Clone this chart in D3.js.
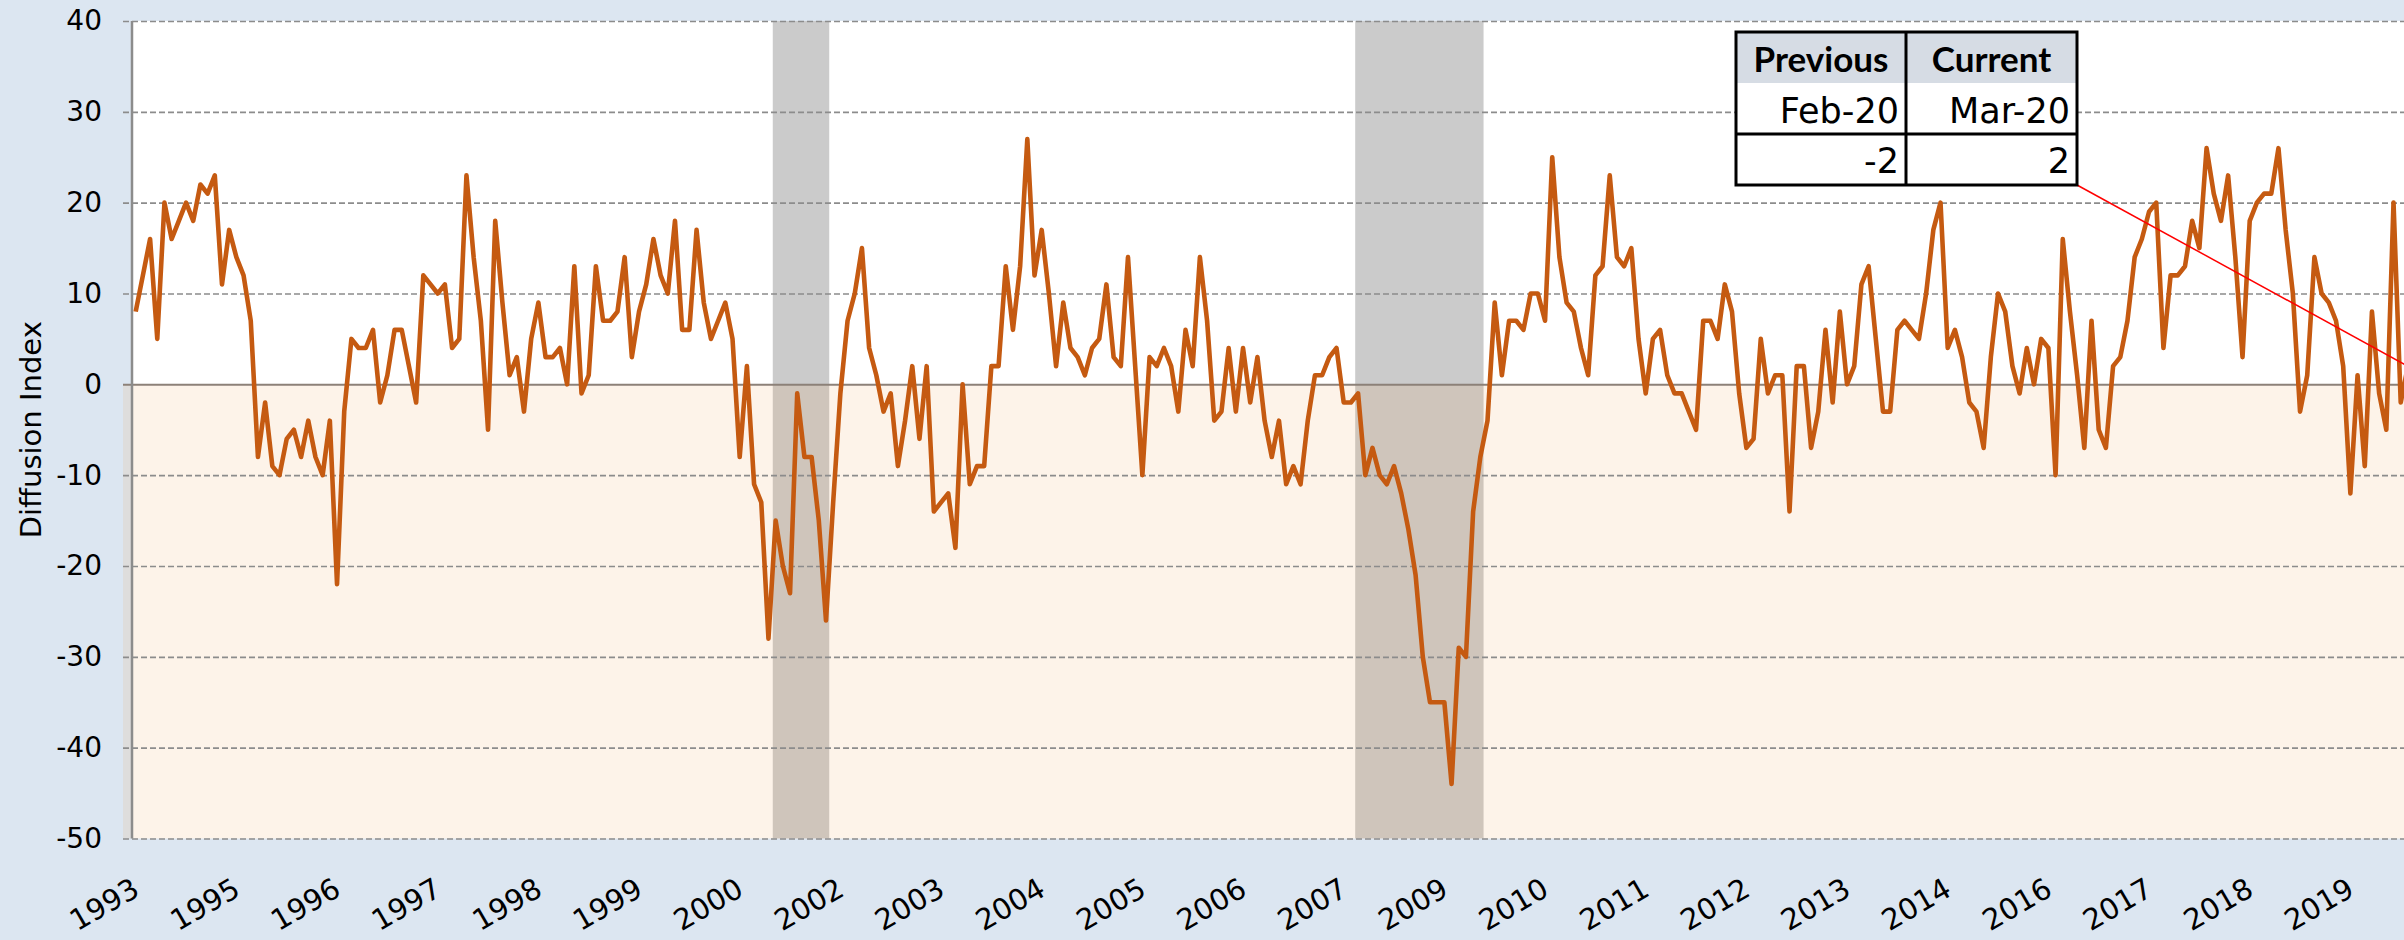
<!doctype html>
<html lang="en">
<head>
  <meta charset="utf-8">
  <title>Diffusion Index</title>
  <style>
    body { margin: 0; background: #dce6f1; }
    svg { display: block; }
    .tick text { font-family: "DejaVu Sans", Verdana, sans-serif; fill: #000; }
    .axis-title { font-family: "DejaVu Sans", Verdana, sans-serif; font-size: 29px; }
    .tbl-head { font-family: Lato, "Noto Sans", sans-serif; font-weight: 700; font-size: 35px; }
    .tbl-cell { font-family: "DejaVu Sans", Verdana, sans-serif; font-size: 35px; }
  </style>
</head>
<body>
  <script src="https://d3js.org/d3.v7.min.js"></script>
  <script>
// monthly categories, Nov 1993 .. Mar 2020
const months = d3.timeMonth.range(new Date(1993, 10, 1), new Date(2020, 3, 1));

// diffusion index, one value per month (rows of 12 starting Nov 1993)
const diffusionIndex = [
  8, 12, 16, 5, 20, 16, 18, 20, 18, 22, 21, 23,
  11, 17, 14, 12, 7, -8, -2, -9, -10, -6, -5, -8,
  -4, -8, -10, -4, -22, -3, 5, 4, 4, 6, -2, 1,
  6, 6, 2, -2, 12, 11, 10, 11, 4, 5, 23, 14,
  7, -5, 18, 9, 1, 3, -3, 5, 9, 3, 3, 4,
  0, 13, -1, 1, 13, 7, 7, 8, 14, 3, 8, 11,
  16, 12, 10, 18, 6, 6, 17, 9, 5, 7, 9, 5,
  -8, 2, -11, -13, -28, -15, -20, -23, -1, -8, -8, -15,
  -26, -13, -1, 7, 10, 15, 4, 1, -3, -1, -9, -4,
  2, -6, 2, -14, -13, -12, -18, 0, -11, -9, -9, 2,
  2, 13, 6, 13, 27, 12, 17, 10, 2, 9, 4, 3,
  1, 4, 5, 11, 3, 2, 14, 2, -10, 3, 2, 4,
  2, -3, 6, 2, 14, 7, -4, -3, 4, -3, 4, -2,
  3, -4, -8, -4, -11, -9, -11, -4, 1, 1, 3, 4,
  -2, -2, -1, -10, -7, -10, -11, -9, -12, -16, -21, -30,
  -35, -35, -35, -44, -29, -30, -14, -8, -4, 9, 1, 7,
  7, 6, 10, 10, 7, 25, 14, 9, 8, 4, 1, 12,
  13, 23, 14, 13, 15, 5, -1, 5, 6, 1, -1, -1,
  -3, -5, 7, 7, 5, 11, 8, -1, -7, -6, 5, -1,
  1, 1, -14, 2, 2, -7, -3, 6, -2, 8, 0, 2,
  11, 13, 5, -3, -3, 6, 7, 6, 5, 10, 17, 20,
  4, 6, 3, -2, -3, -7, 3, 10, 8, 2, -1, 4,
  0, 5, 4, -10, 16, 8, 1, -7, 7, -5, -7, 2,
  3, 7, 14, 16, 19, 20, 4, 12, 12, 13, 18, 15,
  26, 21, 18, 23, 14, 3, 18, 20, 21, 21, 26, 17,
  10, -3, 1, 14, 10, 9, 7, 2, -12, 1, -9, 8,
  -1, -5, 20, -2, 2
];

const yTicks = [40, 30, 20, 10, 0, -10, -20, -30, -40, -50];
const labelEvery = 14;  // excel shows every 14th category

// recession shading (first and last month)
const recessions = [
  { start: new Date(2001, 2, 1), end: new Date(2001, 10, 1) },
  { start: new Date(2007, 11, 1), end: new Date(2009, 5, 1) }
];

const tableHeader = ['Previous', 'Current'];
const tableDates = ['Feb-20', 'Mar-20'];
const tableValues = ['-2', '2'];

const data = months.map((m, i) => ({ date: m, value: diffusionIndex[i] }));

const width = 2404;
const height = 940;
const plotLeft = 132;
const plotTop = 21;
const plotBottom = 838.5;

const svg = d3.select('body').append('svg')
  .attr('width', width)
  .attr('height', height);

svg.append('rect')
  .attr('width', width)
  .attr('height', height)
  .attr('fill', '#dce6f1');

const x = d3.scalePoint()
  .domain(d3.range(months.length))
  .range([135.7, 2407.9]);
const step = x.step();

const y = d3.scaleLinear()
  .domain([-50, 40])
  .range([plotBottom, plotTop]);

// plot area
svg.append('rect')
  .attr('x', plotLeft)
  .attr('y', y(40))
  .attr('width', width - plotLeft)
  .attr('height', y(-50) - y(40))
  .attr('fill', '#fff');

// recession bars
const monthIndex = d => d3.timeMonth.count(months[0], d);
svg.append('g')
  .selectAll('rect')
  .data(recessions)
  .join('rect')
  .attr('x', d => x(0) + (monthIndex(d.start) + 0.6) * step)
  .attr('width', d => (monthIndex(d.end) - monthIndex(d.start) - 0.15) * step)
  .attr('y', y(40))
  .attr('height', y(-50) - y(40))
  .attr('fill', '#cbcbcb');

// light orange wash below zero
svg.append('rect')
  .attr('x', 123)
  .attr('y', y(0))
  .attr('width', width - 123)
  .attr('height', y(-50) - y(0))
  .attr('fill', '#ee994d')
  .attr('fill-opacity', 0.12);

// y axis with gridlines
const yAxis = svg.append('g')
  .attr('transform', 'translate(123,0)')
  .call(d3.axisLeft(y)
    .tickValues(yTicks)
    .tickSize(-(width - 123))
    .tickPadding(21)
    .tickFormat(d => String(d)));
yAxis.select('.domain').remove();
yAxis.selectAll('.tick line')
  .attr('stroke', d => d === 0 ? '#8c8178' : '#8c8c8c')
  .attr('stroke-width', d => d === 0 ? 2 : 1.6)
  .attr('stroke-dasharray', d => d === 0 ? null : '6,3');
yAxis.selectAll('.tick text')
  .attr('font-size', 28);

svg.append('line')
  .attr('x1', plotLeft).attr('x2', plotLeft)
  .attr('y1', y(40)).attr('y2', y(-50))
  .attr('stroke', '#8c8c8c')
  .attr('stroke-width', 2.5);

svg.append('text')
  .attr('class', 'axis-title')
  .attr('transform', 'translate(41,' + y(-5) + ') rotate(-90)')
  .attr('text-anchor', 'middle')
  .text('Diffusion Index');

// x axis labels
const xAxis = svg.append('g')
  .attr('transform', 'translate(0,' + plotBottom + ')')
  .call(d3.axisBottom(x)
    .tickValues(d3.range(0, months.length, labelEvery))
    .tickSize(0)
    .tickFormat(i => d3.timeFormat('%Y')(months[i])));
xAxis.select('.domain').remove();
xAxis.selectAll('.tick text')
  .attr('font-size', 29)
  .attr('text-anchor', 'end')
  .attr('dy', null)
  .attr('y', 0)
  .attr('transform', 'translate(5,56) rotate(-30)');

// series line
const line = d3.line()
  .x((d, i) => x(i))
  .y(d => y(d.value));

svg.append('path')
  .datum(data)
  .attr('d', line)
  .attr('fill', 'none')
  .attr('stroke', '#c55a11')
  .attr('stroke-width', 4.6)
  .attr('stroke-linejoin', 'round');

// summary table
const tx = [1736, 1906, 2077];
const ty = [32, 83, 134, 185];
const last = data[data.length - 1];

svg.append('line')
  .attr('x1', tx[2]).attr('y1', ty[3])
  .attr('x2', x(data.length - 1)).attr('y2', y(last.value))
  .attr('stroke', '#ff0000')
  .attr('stroke-width', 1.5);

const table = svg.append('g');
table.append('rect')
  .attr('x', tx[0]).attr('y', ty[0])
  .attr('width', tx[2] - tx[0]).attr('height', ty[3] - ty[0])
  .attr('fill', '#fff');
table.append('rect')
  .attr('x', tx[0]).attr('y', ty[0])
  .attr('width', tx[2] - tx[0]).attr('height', ty[1] - ty[0])
  .attr('fill', '#d6dce4');

table.selectAll('.tbl-head')
  .data(tableHeader)
  .join('text')
  .attr('class', 'tbl-head')
  .attr('x', (d, i) => (tx[i] + tx[i + 1]) / 2)
  .attr('y', 72)
  .attr('text-anchor', 'middle')
  .text(d => d);

table.selectAll('.tbl-date')
  .data(tableDates)
  .join('text')
  .attr('class', 'tbl-cell tbl-date')
  .attr('x', (d, i) => tx[i + 1] - 7)
  .attr('y', 123)
  .attr('text-anchor', 'end')
  .text(d => d);

table.selectAll('.tbl-val')
  .data(tableValues)
  .join('text')
  .attr('class', 'tbl-cell tbl-val')
  .attr('x', (d, i) => tx[i + 1] - 7)
  .attr('y', 173)
  .attr('text-anchor', 'end')
  .text(d => d);

table.append('rect')
  .attr('x', tx[0]).attr('y', ty[0])
  .attr('width', tx[2] - tx[0]).attr('height', ty[3] - ty[0])
  .attr('fill', 'none')
  .attr('stroke', '#000')
  .attr('stroke-width', 3);
table.append('line')
  .attr('x1', tx[1]).attr('x2', tx[1])
  .attr('y1', ty[0]).attr('y2', ty[3])
  .attr('stroke', '#000').attr('stroke-width', 3);
table.append('line')
  .attr('x1', tx[0]).attr('x2', tx[2])
  .attr('y1', ty[2]).attr('y2', ty[2])
  .attr('stroke', '#000').attr('stroke-width', 3);
  </script>
</body>
</html>
